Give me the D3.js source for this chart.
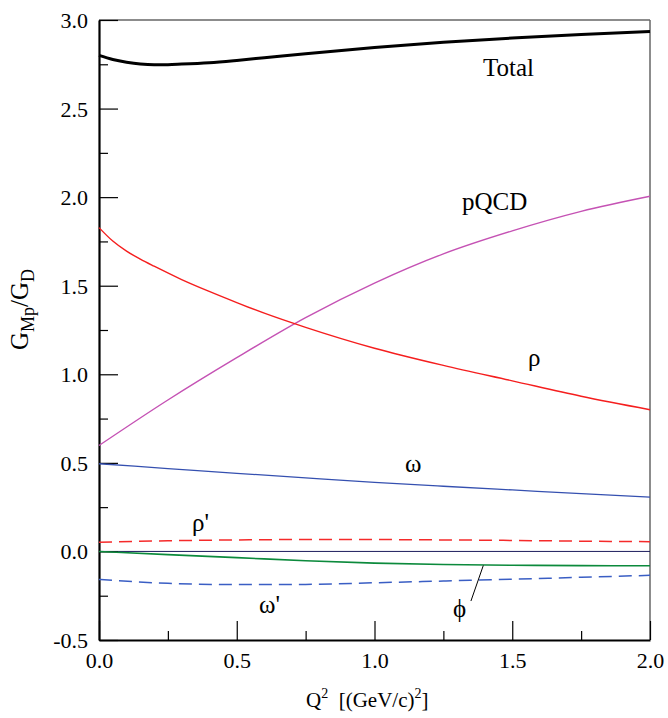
<!DOCTYPE html>
<html>
<head>
<meta charset="utf-8">
<script src="https://cdn.jsdelivr.net/npm/d3@7"></script>
<style>
  html, body { margin: 0; padding: 0; background: #fff; }
  svg { display: block; }
</style>
</head>
<body>
<svg id="chart" width="668" height="718"></svg>
<script>
// ---- data ----
const q2 = [0, 0.25, 0.5, 0.75, 1.0, 1.25, 1.5, 1.75, 2.0];
const totalQ2 = [0, 0.05, 0.1, 0.15, 0.2, 0.25, 0.3, 0.4, 0.5, 0.6, 0.75, 1.0, 1.25, 1.5, 1.75, 2.0];
const total = [2.800, 2.777, 2.762, 2.752, 2.748, 2.748, 2.751, 2.759, 2.772, 2.787, 2.810, 2.845, 2.874, 2.898, 2.918, 2.935];
const pQCD = [0.598, 0.855, 1.094, 1.320, 1.515, 1.680, 1.810, 1.920, 2.005];
const rhoQ2 = [0, 0.05, 0.1, 0.15, 0.2, 0.3, 0.4, 0.5, 0.6, 0.75, 1.0, 1.25, 1.5, 1.75, 2.0];
const rho = [1.828, 1.752, 1.695, 1.650, 1.610, 1.535, 1.468, 1.405, 1.345, 1.265, 1.147, 1.050, 0.963, 0.876, 0.800];
const omega = [0.495, 0.468, 0.441, 0.415, 0.390, 0.368, 0.347, 0.326, 0.307];
const rhoPrime = [0.052, 0.060, 0.065, 0.067, 0.067, 0.065, 0.062, 0.058, 0.055];
const phi = [0.000, -0.018, -0.035, -0.053, -0.066, -0.074, -0.078, -0.080, -0.081];
const omegaPrime = [-0.158, -0.180, -0.187, -0.186, -0.177, -0.167, -0.157, -0.146, -0.135];
const xMajor = [0, 0.5, 1.0, 1.5, 2.0];
const xMinor = [0.25, 0.75, 1.25, 1.75];
const yMajor = [-0.5, 0, 0.5, 1.0, 1.5, 2.0, 2.5, 3.0];
const yMinor = [-0.25, 0.25, 0.75, 1.25, 1.75, 2.25, 2.75];

// ---- layout ----
const SERIF = '"Liberation Serif", "DejaVu Serif", serif';
const svg = d3.select("#chart");
const L = 99, R = 650, T = 20, B = 640;
const x = d3.scaleLinear().domain([0, 2]).range([L, R]);
const y = d3.scaleLinear().domain([-0.5, 3.0]).range([B, T]);
const fmt = v => d3.format(".1f")(v).replace("\u2212", "-");

// frame (top & right, gray)
svg.append("line").attr("x1", L).attr("x2", R).attr("y1", T).attr("y2", T)
  .attr("stroke", "#666").attr("stroke-width", 1.5);
svg.append("line").attr("x1", R).attr("x2", R).attr("y1", T).attr("y2", B)
  .attr("stroke", "#666").attr("stroke-width", 1.5);

// zero line
svg.append("line").attr("x1", x(0)).attr("x2", x(2)).attr("y1", y(0)).attr("y2", y(0))
  .attr("stroke", "#1c1c5c").attr("stroke-width", 1);

// axes
function styleAxis(g) {
  g.attr("font-family", SERIF);
  g.selectAll("text").style("font-family", SERIF).style("font-size", "22px").attr("fill", "#000");
  g.selectAll(".tick line").attr("stroke", "#000").attr("stroke-width", 1.2);
}
const gx = svg.append("g").attr("transform", `translate(0,${B})`)
  .call(d3.axisBottom(x).tickValues(xMajor).tickFormat(fmt).tickSize(-19).tickSizeOuter(0));
gx.call(styleAxis);
gx.selectAll("text").attr("dy", "0").attr("y", 28);
const gxm = svg.append("g").attr("transform", `translate(0,${B})`)
  .call(d3.axisBottom(x).tickValues(xMinor).tickFormat("").tickSize(-9).tickSizeOuter(0));
gxm.call(styleAxis); gxm.select(".domain").remove();

const gy = svg.append("g").attr("transform", `translate(${L},0)`)
  .call(d3.axisLeft(y).tickValues(yMajor).tickFormat(fmt).tickSize(-19).tickSizeOuter(0));
gy.call(styleAxis);
gy.selectAll("text").attr("x", -11).attr("dy", "0.34em");
const gym = svg.append("g").attr("transform", `translate(${L},0)`)
  .call(d3.axisLeft(y).tickValues(yMinor).tickFormat("").tickSize(-9).tickSizeOuter(0));
gym.call(styleAxis); gym.select(".domain").remove();

gx.select(".domain").attr("stroke", "#000").attr("stroke-width", 2.2);
gy.select(".domain").attr("stroke", "#000").attr("stroke-width", 2.2);

// curves
const lineGen = (xs, ys) => d3.line().curve(d3.curveMonotoneX)
  .x((d, i) => x(xs[i])).y(d => y(d))(ys);

function drawCurve(xs, ys, color, width, dash) {
  const p = svg.append("path").attr("d", lineGen(xs, ys))
    .attr("fill", "none").attr("stroke", color).attr("stroke-width", width);
  if (dash) p.attr("stroke-dasharray", dash);
  return p;
}
drawCurve(q2, pQCD, "#c552b4", 1.4);
drawCurve(rhoQ2, rho, "#f51e1e", 1.4);
drawCurve(q2, omega, "#3550b0", 1.3);
drawCurve(q2, rhoPrime, "#f52a2a", 1.5, "13,7");
drawCurve(q2, phi, "#0c8a3c", 1.6);
drawCurve(q2, omegaPrime, "#3a5ec4", 1.5, "13,7");
drawCurve(totalQ2, total, "#000", 3);

// curve labels
const lab = (tx, ty, s) => svg.append("text").attr("x", tx).attr("y", ty)
  .style("font-family", SERIF).style("font-size", "25px").text(s);
lab(483, 76, "Total");
lab(462, 210, "pQCD");
lab(528, 366, "ρ");
lab(405, 472, "ω");
lab(192, 531, "ρ'");
lab(259, 613, "ω'");
lab(453, 617, "ϕ");
// phi leader line
svg.append("line").attr("x1", x(1.395)).attr("y1", y(-0.079))
  .attr("x2", x(1.35)).attr("y2", y(-0.28))
  .attr("stroke", "#000").attr("stroke-width", 1);

// axis titles
const xt = svg.append("text").attr("x", 306).attr("y", 707)
  .style("font-family", SERIF).style("font-size", "21px");
xt.append("tspan").text("Q");
xt.append("tspan").attr("dy", -9).style("font-size", "14px").text("2");
xt.append("tspan").attr("dy", 9).text("\u00a0 [(GeV/c)");
xt.append("tspan").attr("dy", -9).style("font-size", "14px").text("2");
xt.append("tspan").attr("dy", 9).text("]");

const yt = svg.append("text").attr("transform", "translate(28,350) rotate(-90)")
  .style("font-family", SERIF).style("font-size", "25px");
yt.append("tspan").text("G");
yt.append("tspan").attr("dy", 6).style("font-size", "18px").text("Mp");
yt.append("tspan").attr("dy", -6).text("/G");
yt.append("tspan").attr("dy", 6).style("font-size", "18px").text("D");
</script>
</body>
</html>
